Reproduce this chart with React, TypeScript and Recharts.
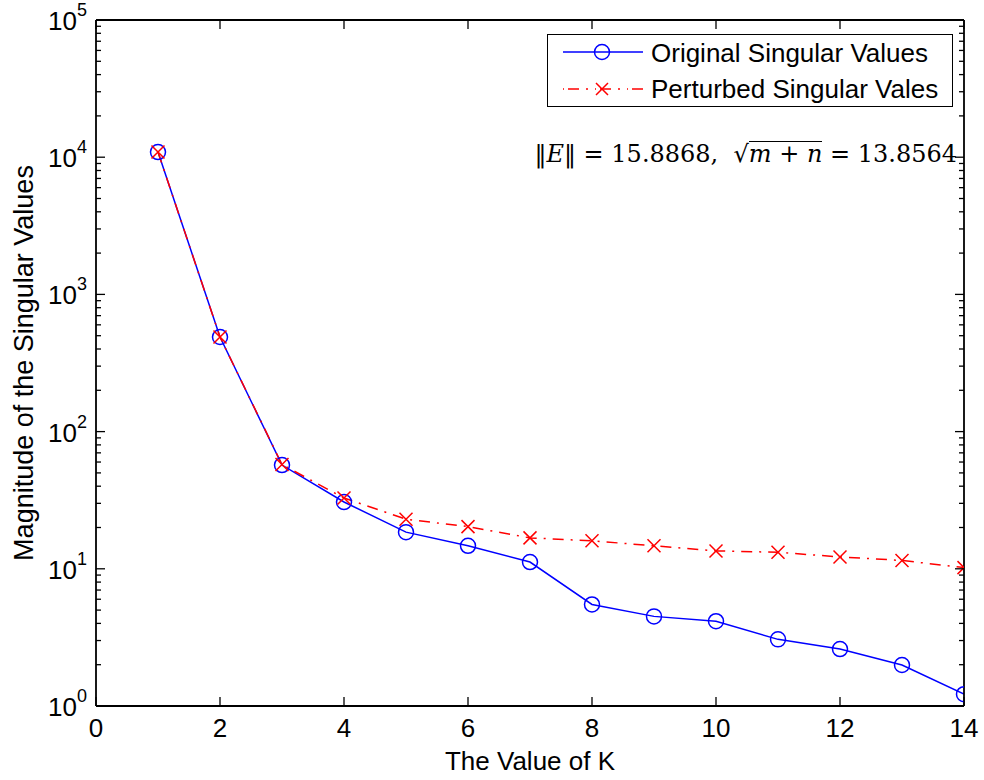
import { Legend, Line, LineChart, XAxis, YAxis } from "recharts";

const kValues = [1, 2, 3, 4, 5, 6, 7, 8, 9, 10, 11, 12, 13, 14];
const originalValues = [10900, 489, 57, 30.7, 18.5, 14.7, 11.2, 5.5, 4.5, 4.15, 3.06, 2.6, 1.99, 1.22];
const perturbedValues = [10900, 489, 57.5, 32.8, 23, 20.3, 16.8, 16.0, 14.7, 13.5, 13.2, 12.2, 11.5, 10.2];

const xTicks = [0, 2, 4, 6, 8, 10, 12, 14];
const decades = [0, 1, 2, 3, 4, 5];
const yTicks = [
  ...[0, 1, 2, 3, 4].flatMap((k) => [1, 2, 3, 4, 5, 6, 7, 8, 9].map((m) => m * Math.pow(10, k))),
  100000,
];

const data = kValues.map((k, i) => ({ k, original: originalValues[i], perturbed: perturbedValues[i] }));

const FONT = '"Liberation Sans", Arial, Helvetica, sans-serif';
const BLUE = "#0000ff";
const RED = "#ff0000";

const isMajor = (v: number) => decades.some((d) => Math.abs(Math.pow(10, d) - v) < 1e-6);

function LeftTick({ x, y, payload }: any) {
  const v = payload.value;
  const major = isMajor(v);
  const exp = Math.round(Math.log10(v));
  return (
    <g>
      <line x1={x} y1={y} x2={x + (major ? 9 : 5)} y2={y} stroke="#000" strokeWidth={1.3} />
      {major && (
        <text x={x - 9} y={y + 10} textAnchor="end" fontFamily={FONT} fontSize={26} fill="#000">
          <tspan>10</tspan>
          <tspan dy={-14} fontSize={18}>
            {exp}
          </tspan>
        </text>
      )}
    </g>
  );
}

function RightTick({ x, y, payload }: any) {
  const major = isMajor(payload.value);
  return <line x1={x} y1={y} x2={x - (major ? 9 : 5)} y2={y} stroke="#000" strokeWidth={1.3} />;
}

function BottomTick({ x, y, payload }: any) {
  return (
    <g>
      <line x1={x} y1={y} x2={x} y2={y - 9} stroke="#000" strokeWidth={1.3} />
      <text x={x} y={y + 31} textAnchor="middle" fontFamily={FONT} fontSize={26} fill="#000">
        {payload.value}
      </text>
    </g>
  );
}

function TopTick({ x, y }: any) {
  return <line x1={x} y1={y} x2={x} y2={y + 9} stroke="#000" strokeWidth={1.3} />;
}

function Cross({ cx, cy, index }: any) {
  if (cx == null || cy == null) return <g key={`c-${index}`} />;
  const s = 6.5;
  return (
    <path
      key={`c-${index}`}
      d={`M${cx - s},${cy - s}L${cx + s},${cy + s}M${cx - s},${cy + s}L${cx + s},${cy - s}`}
      stroke={RED}
      strokeWidth={1.5}
      fill="none"
    />
  );
}

function LegendBox() {
  const rows = [
    { label: "Original Singular Values", kind: "circle" },
    { label: "Perturbed Singular Vales", kind: "cross" },
  ];
  return (
    <div
      style={{
        width: 406,
        height: 73,
        border: "1.5px solid #000",
        background: "#fff",
        boxSizing: "border-box",
        fontFamily: FONT,
        fontSize: 26,
        color: "#000",
      }}
    >
      {rows.map((r) => (
        <div key={r.label} style={{ display: "flex", alignItems: "center", height: 36 }}>
          <svg width={103} height={36} style={{ flex: "none" }}>
            {r.kind === "circle" ? (
              <g>
                <line x1={15} y1={17} x2={95} y2={17} stroke={BLUE} strokeWidth={1.5} />
                <circle cx={54} cy={17} r={7.5} fill="none" stroke={BLUE} strokeWidth={1.5} />
              </g>
            ) : (
              <g>
                <line x1={15} y1={18} x2={95} y2={18} stroke={RED} strokeWidth={1.5} strokeDasharray="1 4 11 7 2 7" />
                <path d="M48,12L60,24M48,24L60,12" stroke={RED} strokeWidth={1.5} />
              </g>
            )}
          </svg>
          <span style={{ whiteSpace: "nowrap" }}>{r.label}</span>
        </div>
      ))}
    </div>
  );
}

export default function App() {
  return (
    <div style={{ position: "absolute", left: 0, top: 0, width: 984, height: 780, background: "#fff" }}>
      <LineChart width={984} height={780} data={data} margin={{ top: 19, right: 19, bottom: 73, left: 0 }}>
        <XAxis
          xAxisId="b"
          dataKey="k"
          type="number"
          domain={[0, 14]}
          ticks={xTicks}
          interval={0}
          height={1}
          tickSize={0}
          tickMargin={0}
          tick={<BottomTick />}
          axisLine={{ stroke: "#000", strokeWidth: 1.8 }}
          allowDataOverflow
          label={({ viewBox }: any) => (
            <text
              x={viewBox.x + viewBox.width / 2}
              y={viewBox.y + 64}
              textAnchor="middle"
              fontFamily={FONT}
              fontSize={26}
              fill="#000"
            >
              The Value of K
            </text>
          )}
        />
        <XAxis
          xAxisId="t"
          orientation="top"
          dataKey="k"
          type="number"
          domain={[0, 14]}
          ticks={xTicks}
          interval={0}
          height={1}
          tickSize={0}
          tickMargin={0}
          tick={<TopTick />}
          axisLine={{ stroke: "#000", strokeWidth: 1.8 }}
          allowDataOverflow
        />
        <YAxis
          yAxisId="l"
          type="number"
          scale="log"
          domain={[1, 100000]}
          ticks={yTicks}
          interval={0}
          width={96}
          tickSize={0}
          tickMargin={0}
          tick={<LeftTick />}
          axisLine={{ stroke: "#000", strokeWidth: 1.8 }}
          allowDataOverflow
          label={({ viewBox }: any) => {
            const cx = viewBox.x + 33;
            const cy = viewBox.y + viewBox.height / 2;
            return (
              <text
                x={cx}
                y={cy}
                transform={`rotate(-90 ${cx} ${cy})`}
                textAnchor="middle"
                fontFamily={FONT}
                fontSize={27}
                fill="#000"
              >
                Magnitude of the Singular Values
              </text>
            );
          }}
        />
        <YAxis
          yAxisId="r"
          orientation="right"
          type="number"
          scale="log"
          domain={[1, 100000]}
          ticks={yTicks}
          interval={0}
          width={1}
          tickSize={0}
          tickMargin={0}
          tick={<RightTick />}
          axisLine={{ stroke: "#000", strokeWidth: 1.8 }}
          allowDataOverflow
        />
        <Line
          xAxisId="b"
          yAxisId="l"
          type="linear"
          dataKey="original"
          name="Original Singular Values"
          stroke={BLUE}
          strokeWidth={1.5}
          dot={{ r: 7.5, fill: "none", stroke: BLUE, strokeWidth: 1.5 }}
          activeDot={false}
          isAnimationActive={false}
        />
        <Line
          xAxisId="b"
          yAxisId="l"
          type="linear"
          dataKey="perturbed"
          name="Perturbed Singular Vales"
          stroke={RED}
          strokeWidth={1.5}
          strokeDasharray="11 7 2 7"
          dot={<Cross />}
          activeDot={false}
          isAnimationActive={false}
        />
        <Legend
          layout="horizontal"
          verticalAlign="middle"
          align="center"
          content={() => <LegendBox />}
          wrapperStyle={{ position: "absolute", left: 547, top: 34, width: 406, height: 73 }}
        />
      </LineChart>
      <div
        style={{
          position: "absolute",
          right: 27,
          top: 140,
          fontFamily: '"DejaVu Serif", "Liberation Serif", serif',
          fontSize: 24,
          color: "#000",
          whiteSpace: "nowrap",
          display: "flex",
          alignItems: "baseline",
        }}
      >
        <span>‖<i>E</i>‖&nbsp;=&nbsp;15.8868,&nbsp;&nbsp;√</span>
        <span style={{ borderTop: "1.5px solid #000", lineHeight: "24px" }}>
          <i>m</i>&nbsp;+&nbsp;<i>n</i>
        </span>
        <span>&nbsp;=&nbsp;13.8564</span>
      </div>
    </div>
  );
}
